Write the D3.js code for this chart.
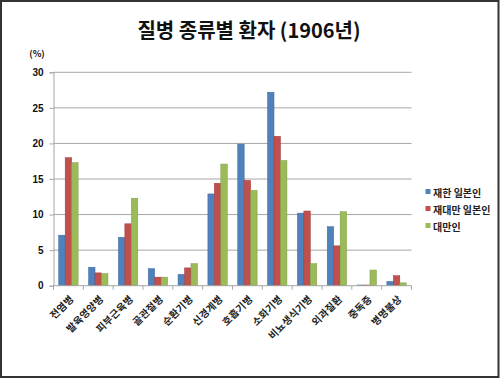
<!DOCTYPE html>
<html><head><meta charset="utf-8">
<script src="https://cdn.jsdelivr.net/npm/d3@7/dist/d3.min.js"></script>
<style>
html,body{margin:0;padding:0;background:#fff;}
svg text{font-family:"Noto Sans CJK KR","Noto Sans",sans-serif;}
</style></head>
<body><svg id="c" width="500" height="382"></svg>
<script>
const categories = ["전염병","발육영양병","피부근육병","골관절병","순환기병","신경계병","호흡기병","소화기병","비뇨생식기병","외과질환","중독증","병명불상"];
const seriesNames = ["재한 일본인","재대만 일본인","대만인"];
const koreaJapanese = [7.1,2.6,6.8,2.4,1.6,12.9,19.9,27.2,10.2,8.3,0.1,0.6];
const taiwanJapanese = [18.0,1.8,8.7,1.2,2.5,14.4,14.8,21.0,10.5,5.6,0.1,1.4];
const taiwanese = [17.3,1.7,12.3,1.2,3.1,17.1,13.4,17.6,3.1,10.4,2.2,0.4];
const yTicks = [0,5,10,15,20,25,30];
const colors = ["#4F81BD","#C0504D","#9BBB59"];
const strokes = ["#3c6aa0","#9e3a37","#7f9c45"];
const series = [koreaJapanese, taiwanJapanese, taiwanese];

(function(){
const svg = d3.select("#c");
svg.append("rect").attr("x",1).attr("y",1).attr("width",497.5).attr("height",376)
  .attr("fill","#fff").attr("stroke","#333").attr("stroke-width",2);

const pLeft=53.5, pRight=411.5, pTop=72.3, pBottom=285.7;
const x = d3.scaleBand().domain(categories).range([pLeft,pRight]).paddingInner(0.35).paddingOuter(0.175);
const xs = d3.scaleBand().domain(d3.range(3)).range([0,x.bandwidth()]);
const y = d3.scaleLinear().domain([0,30]).range([pBottom,pTop]);

svg.append("g").selectAll("line").data(yTicks.filter(d=>d>0)).join("line")
  .attr("x1",pLeft).attr("x2",pRight).attr("y1",d=>y(d)).attr("y2",d=>y(d))
  .attr("stroke","#a6a6a6").attr("stroke-width",1);

const ya = svg.append("g").attr("transform",`translate(${pLeft},0)`)
  .call(d3.axisLeft(y).tickValues(yTicks).tickSize(4).tickPadding(6));
ya.select(".domain").attr("stroke","#a6a6a6");
ya.selectAll(".tick line").attr("stroke","#a6a6a6");
ya.selectAll("text").attr("font-size",10).attr("font-weight",700).attr("fill","#111")
  .style("font-family","'Liberation Sans',Arial,sans-serif");

const g = svg.append("g");
series.forEach((vals,si)=>{
  g.append("g").selectAll("rect").data(vals).join("rect")
    .attr("x",(d,i)=>x(categories[i])+xs(si))
    .attr("width",xs.bandwidth())
    .attr("y",d=>y(d))
    .attr("height",d=>pBottom-y(d))
    .attr("fill",colors[si]).attr("stroke",strokes[si]).attr("stroke-width",0.5);
});

const n = categories.length;
const xa = svg.append("g").attr("transform",`translate(0,${pBottom})`);
xa.append("line").attr("x1",pLeft).attr("x2",pRight).attr("stroke","#a6a6a6");
xa.selectAll("line.tk").data(d3.range(n+1)).join("line").attr("class","tk")
  .attr("x1",i=>pLeft+i*(pRight-pLeft)/n).attr("x2",i=>pLeft+i*(pRight-pLeft)/n)
  .attr("y1",0).attr("y2",4).attr("stroke","#a6a6a6");
xa.selectAll("text").data(categories).join("text")
  .attr("transform",d=>`translate(${x(d)+x.bandwidth()/2+6},${14}) rotate(-45)`)
  .attr("text-anchor","end").attr("font-size",10).attr("font-weight",700).attr("fill","#222")
  .attr("letter-spacing",0.3)
  .text(d=>d);

svg.append("text").attr("x",249).attr("y",38).attr("text-anchor","middle")
  .attr("font-size",20).attr("font-weight",700).attr("fill","#111").text("질병 종류별 환자 (1906년)");
svg.append("text").attr("x",37).attr("y",57).attr("text-anchor","middle")
  .attr("font-size",9).attr("font-weight",700).attr("fill","#111").text("(%)");

const lg = svg.append("g");
seriesNames.forEach((nm,i)=>{
  const yy = 193 + i*17;
  lg.append("rect").attr("x",425.5).attr("y",yy-4).attr("width",5).attr("height",5).attr("fill",colors[i]);
  lg.append("text").attr("x",433).attr("y",yy+4).attr("font-size",10).attr("font-weight",700)
    .attr("fill","#222").text(nm);
});
})();
</script></body></html>
